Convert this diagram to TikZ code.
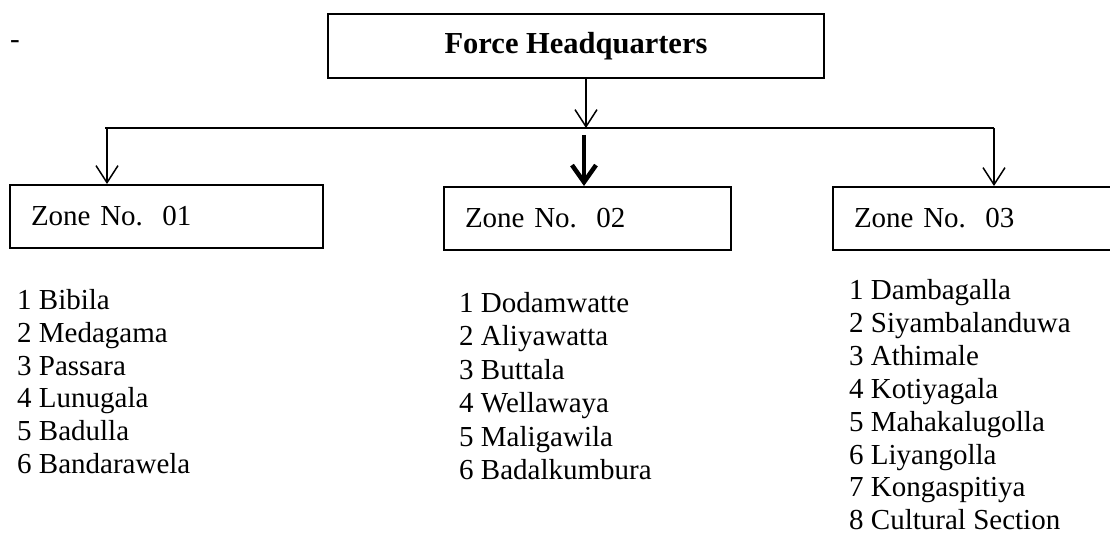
\documentclass[tikz,border=0pt]{standalone}
\usepackage{fontspec}
\setmainfont{Liberation Serif}
\usetikzlibrary{arrows.meta}

\tikzset{
  box/.style={draw, line width=2pt, inner ysep=0pt, minimum height=63pt},
  zonebox/.style={box, anchor=north west, align=left, inner xsep=21pt,
    font=\fontsize{29}{33}\selectfont},
  item/.style={anchor=base west, inner sep=0pt, font=\fontsize{29}{33}\selectfont},
  link/.style={line width=1.5pt, -{Straight Barb[length=17pt,width=22pt]}},
  boldlink/.style={line width=4.5pt, -{Straight Barb[length=17pt,width=24pt]}}
}

\begin{document}
\begin{tikzpicture}
  \begin{scope}[x=1pt,y=-1pt]
    \useasboundingbox (0,0) rectangle (1110,534);
    \clip (0,0) rectangle (1110,534);
    \node[item] (dash) at (10,48.6) {-};
    \node[box, minimum width=496pt, minimum height=64pt,
          font=\bfseries\fontsize{30.5}{36}\selectfont] (hq) at (576,46) {Force Headquarters};
    % zones
    \node[zonebox, text width=271pt] (z1) at (9,184) {Zone No.\ \ 01};
    \node[zonebox, text width=245pt] (z2) at (443,186) {Zone No.\ \ 02};
    \node[zonebox, text width=258pt] (z3) at (832,186) {Zone No.\ \ 03};
    % bus and arrows
    \coordinate (busL) at (105,128);
    \coordinate (busR) at (994,128);
    \coordinate (busM) at (586,128);
    \coordinate (dropL) at (107,128);
    \coordinate (dropM) at (584,135);
    \draw[line width=2pt] (busL) -- (busR);
    \draw[link] (hq.south -| busM) -- (busM);
    \draw[link] (dropL) -- (dropL |- z1.north);
    \draw[boldlink] (dropM) -- (dropM |- z2.north);
    \draw[link] (busR) -- (busR |- z3.north);
    % stations
    \foreach \stn [count=\i] in {1 Bibila, 2 Medagama, 3 Passara, 4 Lunugala,
                                 5 Badulla, 6 Bandarawela}
      {\node[item] (za-\i) at (17,{309.5+32.8*(\i-1)}) {\stn};}
    \foreach \stn [count=\i] in {1 Dodamwatte, 2 Aliyawatta, 3 Buttala, 4 Wellawaya,
                                 5 Maligawila, 6 Badalkumbura}
      {\node[item] (zb-\i) at (459,{312.5+33.4*(\i-1)}) {\stn};}
    \foreach \stn [count=\i] in {1 Dambagalla, 2 Siyambalanduwa, 3 Athimale, 4 Kotiyagala,
                                 5 Mahakalugolla, 6 Liyangolla, 7 Kongaspitiya, 8 Cultural Section}
      {\node[item] (zc-\i) at (849,{299.5+32.9*(\i-1)}) {\stn};}
  \end{scope}
\end{tikzpicture}
\end{document}
